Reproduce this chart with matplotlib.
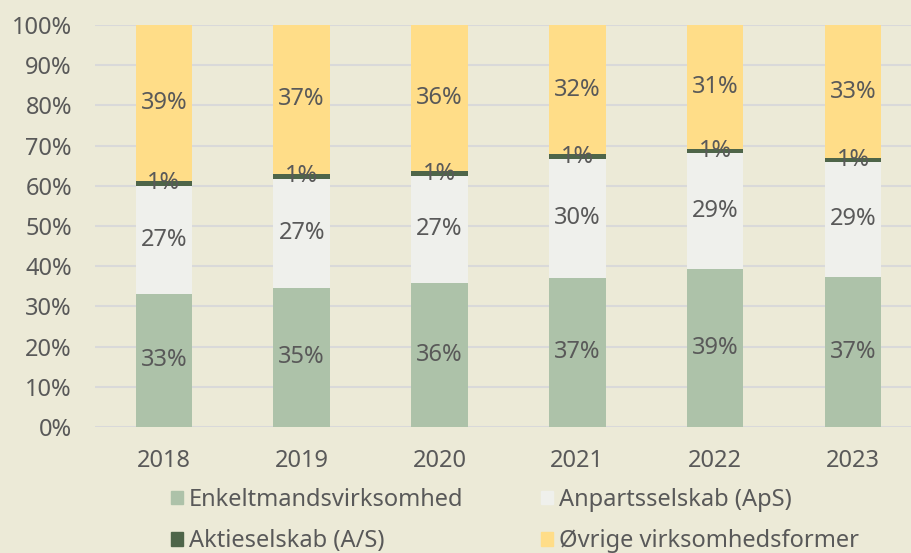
import matplotlib.pyplot as plt
from matplotlib.patches import Patch
from matplotlib.ticker import FuncFormatter

plt.rcParams['font.family'] = ['Noto Sans', 'DejaVu Sans']

# data (share of new firms, %)
years = ['2018', '2019', '2020', '2021', '2022', '2023']
enkelt = [33.1, 34.7, 35.9, 37.1, 39.4, 37.4]
aps = [26.9, 27.1, 26.6, 29.6, 28.8, 28.6]
as_ = [1.2, 1.2, 1.1, 1.1, 1.0, 0.9]
ovrige = [38.8, 37.0, 36.4, 32.2, 30.8, 33.1]
names = ['Enkeltmandsvirksomhed', 'Anpartsselskab (ApS)', 'Aktieselskab (A/S)', 'Øvrige virksomhedsformer']
colors = ['#ADC2A9', '#EFF0EC', '#4E6549', '#FFDD88']

bg = '#ECEAD7'
txt = '#595959'
fs = 17

fig = plt.figure(figsize=(9.12, 5.53), dpi=100)
fig.patch.set_facecolor(bg)
ax = fig.add_axes([0.104, 0.2278, 0.907, 0.727])
ax.set_facecolor(bg)

x = range(len(years))
bottom = [0.0] * len(years)
for vals, col, name in zip([enkelt, aps, as_, ovrige], colors, names):
    ax.bar(x, vals, width=0.41, bottom=bottom, color=col, zorder=2, label=name)
    for i, v in enumerate(vals):
        ax.text(i, bottom[i] + v / 2, f"{v:.0f}%", ha='center', va='center',
                fontsize=fs, color=txt, zorder=3)
    bottom = [b + v for b, v in zip(bottom, vals)]

ax.set_xlim(-0.5, len(years) - 0.5)
ax.set_ylim(0, 100)
ax.set_yticks(range(0, 101, 10))
ax.yaxis.set_major_formatter(FuncFormatter(lambda v, p: f"{v:.0f}%"))
ax.set_xticks(list(x))
ax.set_xticklabels(years)
ax.grid(axis='y', color='#D9D9D9', linewidth=1.5, zorder=0)
ax.set_axisbelow(True)
for s in ax.spines.values():
    s.set_visible(False)
ax.tick_params(length=0, labelsize=fs, colors=txt)
ax.tick_params(axis='y', pad=16.5)
ax.tick_params(axis='x', pad=15.5)

handles = [Patch(color=colors[0]), Patch(color=colors[2]), Patch(color=colors[1]), Patch(color=colors[3])]
labels = [names[0], names[2], names[1], names[3]]
leg = fig.legend(handles, labels, ncol=2, loc='upper left', bbox_to_anchor=(0.1875, 0.118),
                 frameon=False, fontsize=fs, handlelength=0.5, handleheight=0.5,
                 handletextpad=0.25, columnspacing=3.3, labelspacing=0.75, borderpad=0,
                 borderaxespad=0)
for t in leg.get_texts():
    t.set_color(txt)

fig.savefig('out.png', dpi=100, facecolor=bg)
